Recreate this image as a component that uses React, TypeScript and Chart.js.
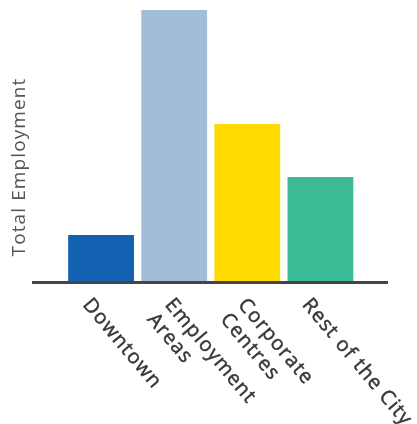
import React, { useEffect, useRef } from "react";
import { Chart, registerables } from "chart.js";

Chart.register(...registerables);

const categories: string[][] = [
  ["Downtown"],
  ["Employment", "Areas"],
  ["Corporate", "Centres"],
  ["Rest of the City"],
];
const employment: number[] = [46, 271, 157, 104];
const barColors: string[] = ["#1262b1", "#a3bcda", "#ffda00", "#3dbb97"];
const yTitle = "Total Employment";

const FONT = "'Open Sans', sans-serif";

const decorPlugin = {
  id: "decor",
  afterDraw(chart: any) {
    const ctx = chart.ctx as CanvasRenderingContext2D;
    const xs = chart.scales.x;
    const area = chart.chartArea;
    ctx.save();
    // baseline
    ctx.strokeStyle = "#454545";
    ctx.lineWidth = 3;
    ctx.beginPath();
    ctx.moveTo(32, area.bottom + 1.5);
    ctx.lineTo(388, area.bottom + 1.5);
    ctx.stroke();

    // y title
    ctx.fillStyle = "#555555";
    ctx.font = `19px ${FONT}`;
    (ctx as any).letterSpacing = "1.1px";
    ctx.textAlign = "center";
    ctx.textBaseline = "middle";
    ctx.save();
    ctx.translate(20, 167);
    ctx.rotate(-Math.PI / 2);
    ctx.fillText(yTitle, 0, 0);
    ctx.restore();

    // rotated category labels
    const ang = (50 * Math.PI) / 180;
    const lh = 23;
    ctx.fillStyle = "#383838";
    ctx.strokeStyle = "#383838";
    ctx.lineWidth = 0.5;
    ctx.font = `20px ${FONT}`;
    (ctx as any).letterSpacing = "1.2px";
    ctx.textAlign = "left";
    ctx.textBaseline = "alphabetic";
    const labels = chart.data.labels as string[][];
    labels.forEach((lines, i) => {
      const cx = xs.getPixelForValue(i);
      const shift = (lines.length - 1) * 9;
      ctx.save();
      ctx.translate(cx - 19 + shift, area.bottom + 24);
      ctx.rotate(ang);
      lines.forEach((ln, j) => {
        ctx.fillText(ln, 0, j * lh);
        ctx.strokeText(ln, 0, j * lh);
      });
      ctx.restore();
    });
    ctx.restore();
  },
};

export default function App() {
  const ref = useRef<HTMLCanvasElement | null>(null);
  useEffect(() => {
    if (!ref.current) return;
    const chart = new Chart(ref.current, {
      type: "bar",
      data: {
        labels: categories,
        datasets: [
          {
            data: employment,
            backgroundColor: barColors,
            borderWidth: 0,
            barPercentage: 0.9,
            categoryPercentage: 1,
          },
        ],
      },
      options: {
        animation: false,
        responsive: false,
        layout: { padding: { left: 64.5, right: 60, top: 10, bottom: 143 } },
        plugins: {
          legend: { display: false },
          tooltip: { enabled: false },
          title: { display: false },
        },
        scales: {
          x: { display: false },
          y: { display: false, min: 0, max: 271 },
        },
      },
      plugins: [decorPlugin],
    });
    return () => chart.destroy();
  }, []);
  return (
    <div style={{ position: "fixed", left: 0, top: 0, width: 417, height: 424, background: "#fff" }}>
      <canvas ref={ref} width={417} height={424} style={{ width: 417, height: 424, display: "block" }} />
    </div>
  );
}
